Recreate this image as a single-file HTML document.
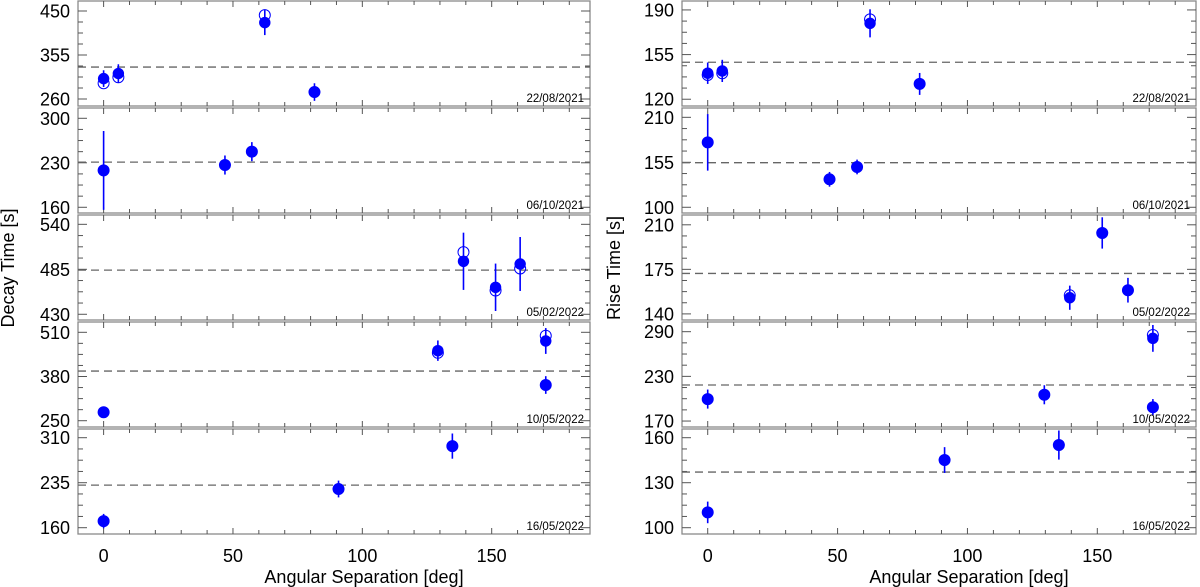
<!DOCTYPE html>
<html><head><meta charset="utf-8"><style>
html,body{margin:0;padding:0;background:#fff;}
svg{display:block;font-family:"Liberation Sans",Arial,sans-serif;}
</style></head><body>
<svg id="chart" width="1200" height="587" viewBox="0 0 1200 587"></svg>
<script>
// ---- data ----
const dates = ["22/08/2021","06/10/2021","05/02/2022","10/05/2022","16/05/2022"];
const xTicks = [0,50,100,150];
// Decay time panels
const decayTicks = [[260,355,450],[160,230,300],[430,485,540],[250,380,510],[160,235,310]];
const decayRange = [[244.9,471.6],[151,316.2],[423,551.4],[231.5,540.3],[149.5,324.5]];
const decayMean = [329,231,484,396,231];
const decayX = [[0,5.7,62.3,81.5],[0,46.9,57.3],[139.1,151.5,161],[0,129.2,170.9,170.9],[0,90.8,134.8]];
const decayY = [[304,315,425,275],[218,226.5,247.5],[494.8,463,491.5],[275,456,484.5,355],[171,224.5,296]];
const decayOpen = [[294,307,441,275],[218,226.5,247.5],[506,459,486],[275,450,500,355],[171,224.5,296]];
const decayErr = [[18,20,27,19],[62,15,15],[35,29,33],[12,30,38,26],[12,14,21]];
// Rise time panels
const riseTicks = [[120,155,190],[100,155,210],[140,175,210],[170,230,290],[100,130,160]];
const riseRange = [[114.7,197],[93,221.4],[135.2,217.7],[162,303],[95.8,165.8]];
const riseMean = [149,154.5,171.8,218.4,137.1];
const riseX = [[0,5.6,62.5,81.6],[0,46.9,57.5],[139.4,151.9,161.8],[0,129.6,171.4,171.4],[0,91.2,135.2]];
const riseY = [[140.4,142.2,179.5,132],[179.4,134.2,149.3],[152.7,203.6,158.6],[199.5,205.3,281,188.5],[110.2,145.1,155.1]];
const riseOpen = [[139,140.4,182.6,132],[179.4,134.2,149.3],[154.6,203.6,158.6],[199.5,205.3,285.6,188.5],[110.2,145.1,155.1]];
const riseErr = [[8.4,8.7,11,8.6],[34.6,9,9],[9.5,12.3,9.7],[12.8,12.8,18,11],[7.2,8.6,9.7]];

const NS = "http://www.w3.org/2000/svg";
const svg = document.getElementById("chart");
function mk(tag, attrs, parent){
  const e = document.createElementNS(NS, tag);
  for (const k in attrs) e.setAttribute(k, attrs[k]);
  (parent||svg).appendChild(e);
  return e;
}
const panelTops = [1,108,215,322,429];
const PH = 105;
const xDom = [-9.9, 188];

function drawColumn(side, L, R, ticks, ranges, means, xs, ys, opens, errs){
  const xs_ = v => L + (v - xDom[0]) / (xDom[1]-xDom[0]) * (R-L);
  for (let p=0;p<5;p++){
    const T = panelTops[p], B = T+PH;
    const [ymin,ymax] = ranges[p];
    const ys_ = v => B - (v-ymin)/(ymax-ymin)*PH;
    const g = mk("g",{});
    
    
    const fr = mk("rect",{x:L,y:T,width:R-L,height:PH,fill:"none",stroke:"#8a8a8a","stroke-width":1.3},g);
    
    
    for (let d=0; d<=180; d+=10){
      const x = xs_(d); const len = d%50===0?6:4;
      mk("line",{x1:x,x2:x,y1:B,y2:B-len,stroke:"#555","stroke-width":1},g);
      mk("line",{x1:x,x2:x,y1:T,y2:T+len,stroke:"#555","stroke-width":1},g);
    }
    const tk = ticks[p]; const step = (tk[1]-tk[0])/4;
    for (let v=tk[0]-step*4; v<=ymax; v+=step){
      if (v<ymin) continue;
      const y = ys_(v); const major = Math.abs(((v-tk[0])/step)%4)<0.01;
      const len = major?9:5;
      mk("line",{x1:L,x2:L+len,y1:y,y2:y,stroke:"#555","stroke-width":1},g);
      mk("line",{x1:R,x2:R-len,y1:y,y2:y,stroke:"#555","stroke-width":1},g);
    }
    tk.forEach(v=>{
      const t = mk("text",{x:L-8,y:ys_(v)+6.5,"text-anchor":"end","font-size":18,fill:"#000"},g);
      t.textContent = v;
      
      
    });
    const ml = mk("line",{x1:L,x2:R,y1:ys_(means[p]),y2:ys_(means[p]),stroke:"#666","stroke-width":1.3,"stroke-dasharray":"8,5"},g);
    
    
    xs[p].forEach((d,i)=>{
      const x = xs_(d), y = ys_(ys[p][i]);
      const e1 = Math.max(T, ys_(ys[p][i]+errs[p][i])), e2 = Math.min(B, ys_(ys[p][i]-errs[p][i]));
      const eb = mk("line",{x1:x,x2:x,y1:e1,y2:e2,stroke:"#0000ff","stroke-width":1.6},g);
      
      
      const oc = mk("circle",{cx:x,cy:ys_(opens[p][i]),r:5.5,fill:"none",stroke:"#0000ff","stroke-width":1},g);
      
      
      const fc = mk("circle",{cx:x,cy:y,r:5.7,fill:"#0000ff"},g);
      
      
    });
    const dt = mk("text",{x:R-6,y:B-4,"text-anchor":"end","font-size":11.5,fill:"#000"},g);
    dt.textContent = dates[p];
    
    
  }
  xTicks.forEach(v=>{
    const t = mk("text",{x:xs_(v),y:562,"text-anchor":"middle","font-size":18,fill:"#000"});
    t.textContent = v;
    
    
  });
  const xt = mk("text",{x:(L+R)/2+30,y:583,"text-anchor":"middle","font-size":18,fill:"#000"});
  xt.textContent = "Angular Separation [deg]";
  
  
}
drawColumn("decay",78,590,decayTicks,decayRange,decayMean,decayX,decayY,decayOpen,decayErr);
drawColumn("rise",682,1196,riseTicks,riseRange,riseMean,riseX,riseY,riseOpen,riseErr);

const yt1 = mk("text",{x:0,y:0,"text-anchor":"middle","font-size":18,fill:"#000",transform:"translate(14,268) rotate(-90)"});
yt1.textContent = "Decay Time [s]";


const yt2 = mk("text",{x:0,y:0,"text-anchor":"middle","font-size":18,fill:"#000",transform:"translate(620,268) rotate(-90)"});
yt2.textContent = "Rise Time [s]";


</script>
</body></html>
